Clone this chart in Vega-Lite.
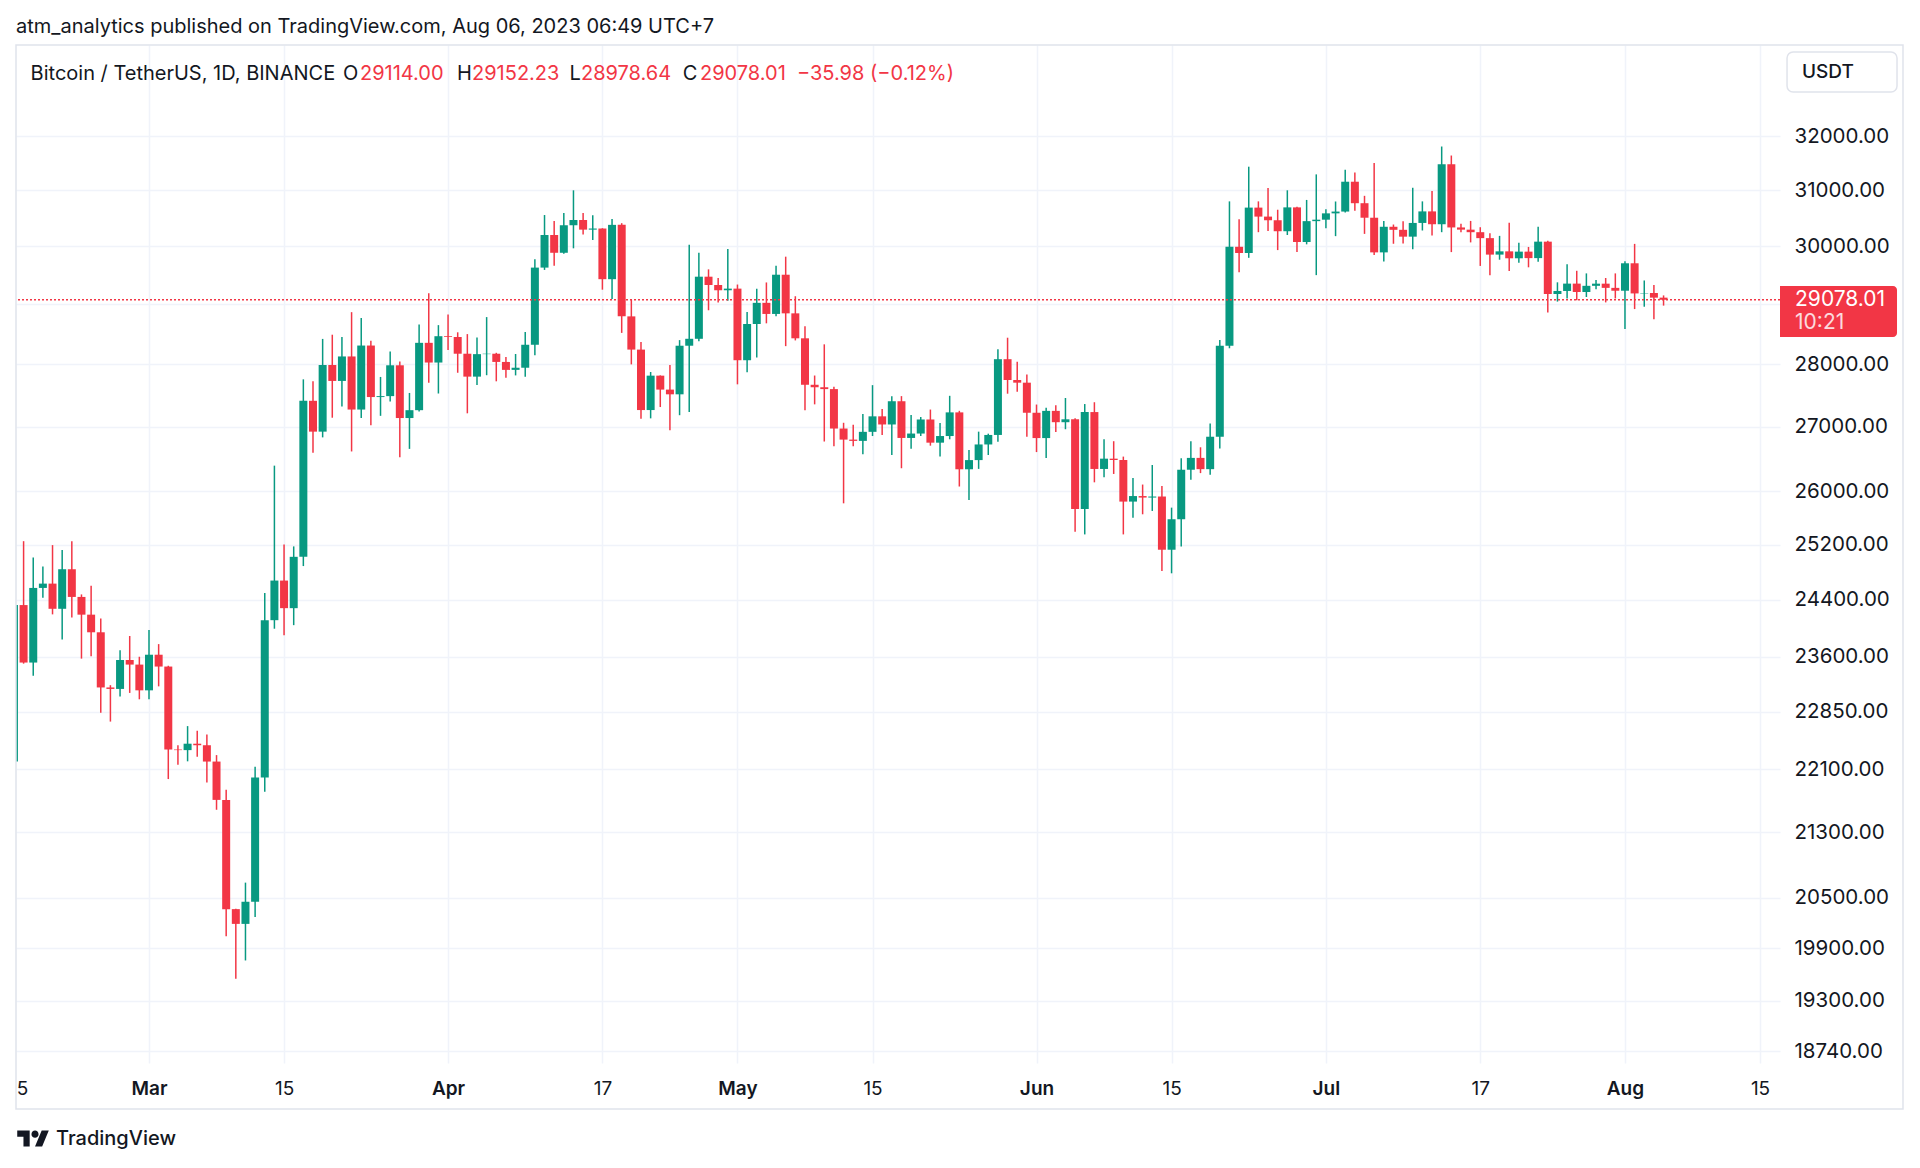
{
  "$schema": "https://vega.github.io/schema/vega-lite/v6.json",
  "autosize": {"type": "none"},
  "width": 1764,
  "height": 1018,
  "padding": {"left": 16, "top": 45, "right": 140, "bottom": 105},
  "background": "#ffffff",
  "config": {"view": {"stroke": null}, "font": "Inter", "scale": {"continuousPadding": 0}},
  "title": {"text": "atm_analytics published on TradingView.com, Aug 06, 2023 06:49 UTC+7", "anchor": "start", "frame": "group", "font": "Inter", "fontSize": 20, "fontWeight": "normal", "color": "#131722", "offset": 7},
  "datasets": {
    "btc": [
      {"d":"2023-02-15","o":22199,"h":24380,"l":22047,"c":24324},
      {"d":"2023-02-16","o":24324,"h":25250,"l":23505,"c":23520},
      {"d":"2023-02-17","o":23520,"h":25010,"l":23340,"c":24569},
      {"d":"2023-02-18","o":24569,"h":24877,"l":24430,"c":24631},
      {"d":"2023-02-19","o":24631,"h":25192,"l":24192,"c":24271},
      {"d":"2023-02-20","o":24271,"h":25121,"l":23840,"c":24839},
      {"d":"2023-02-21","o":24839,"h":25250,"l":24148,"c":24440},
      {"d":"2023-02-22","o":24440,"h":24476,"l":23574,"c":24188},
      {"d":"2023-02-23","o":24188,"h":24600,"l":23608,"c":23940},
      {"d":"2023-02-24","o":23940,"h":24132,"l":22841,"c":23180},
      {"d":"2023-02-25","o":23180,"h":23211,"l":22722,"c":23160},
      {"d":"2023-02-26","o":23160,"h":23689,"l":23059,"c":23555},
      {"d":"2023-02-27","o":23555,"h":23888,"l":23106,"c":23492},
      {"d":"2023-02-28","o":23492,"h":23600,"l":23020,"c":23141},
      {"d":"2023-03-01","o":23141,"h":23972,"l":23020,"c":23628},
      {"d":"2023-03-02","o":23628,"h":23775,"l":23195,"c":23465},
      {"d":"2023-03-03","o":23465,"h":23476,"l":21971,"c":22354},
      {"d":"2023-03-04","o":22354,"h":22410,"l":22157,"c":22346},
      {"d":"2023-03-05","o":22346,"h":22662,"l":22200,"c":22430},
      {"d":"2023-03-06","o":22430,"h":22602,"l":22258,"c":22410},
      {"d":"2023-03-07","o":22410,"h":22552,"l":21927,"c":22197},
      {"d":"2023-03-08","o":22197,"h":22281,"l":21580,"c":21705},
      {"d":"2023-03-09","o":21705,"h":21834,"l":20042,"c":20362},
      {"d":"2023-03-10","o":20362,"h":20367,"l":19549,"c":20187},
      {"d":"2023-03-11","o":20187,"h":20680,"l":19760,"c":20450},
      {"d":"2023-03-12","o":20450,"h":22130,"l":20270,"c":21990},
      {"d":"2023-03-13","o":21990,"h":24495,"l":21810,"c":24110},
      {"d":"2023-03-14","o":24110,"h":26390,"l":23990,"c":24675},
      {"d":"2023-03-15","o":24675,"h":25200,"l":23900,"c":24280},
      {"d":"2023-03-16","o":24280,"h":25173,"l":24040,"c":25020},
      {"d":"2023-03-17","o":25020,"h":27756,"l":24885,"c":27410},
      {"d":"2023-03-18","o":27410,"h":27725,"l":26590,"c":26920},
      {"d":"2023-03-19","o":26920,"h":28420,"l":26830,"c":27990},
      {"d":"2023-03-20","o":27990,"h":28490,"l":27140,"c":27730},
      {"d":"2023-03-21","o":27730,"h":28450,"l":27320,"c":28130},
      {"d":"2023-03-22","o":28130,"h":28868,"l":26610,"c":27270},
      {"d":"2023-03-23","o":27270,"h":28770,"l":27135,"c":28310},
      {"d":"2023-03-24","o":28310,"h":28390,"l":27020,"c":27470},
      {"d":"2023-03-25","o":27470,"h":27795,"l":27170,"c":27485},
      {"d":"2023-03-26","o":27485,"h":28210,"l":27400,"c":27985},
      {"d":"2023-03-27","o":27985,"h":28048,"l":26520,"c":27135},
      {"d":"2023-03-28","o":27135,"h":27536,"l":26650,"c":27260},
      {"d":"2023-03-29","o":27260,"h":28660,"l":27240,"c":28355},
      {"d":"2023-03-30","o":28355,"h":29190,"l":27700,"c":28030},
      {"d":"2023-03-31","o":28030,"h":28650,"l":27527,"c":28465},
      {"d":"2023-04-01","o":28465,"h":28830,"l":28235,"c":28452},
      {"d":"2023-04-02","o":28452,"h":28530,"l":27863,"c":28175},
      {"d":"2023-04-03","o":28175,"h":28500,"l":27210,"c":27800},
      {"d":"2023-04-04","o":27800,"h":28444,"l":27666,"c":28168},
      {"d":"2023-04-05","o":28168,"h":28785,"l":27823,"c":28175},
      {"d":"2023-04-06","o":28175,"h":28190,"l":27724,"c":28040},
      {"d":"2023-04-07","o":28040,"h":28120,"l":27780,"c":27910},
      {"d":"2023-04-08","o":27910,"h":28170,"l":27820,"c":27945},
      {"d":"2023-04-09","o":27945,"h":28536,"l":27800,"c":28323},
      {"d":"2023-04-10","o":28323,"h":29774,"l":28150,"c":29630},
      {"d":"2023-04-11","o":29630,"h":30555,"l":29590,"c":30200},
      {"d":"2023-04-12","o":30200,"h":30450,"l":29660,"c":29888},
      {"d":"2023-04-13","o":29888,"h":30590,"l":29870,"c":30373},
      {"d":"2023-04-14","o":30373,"h":31000,"l":29966,"c":30466},
      {"d":"2023-04-15","o":30466,"h":30590,"l":30210,"c":30295},
      {"d":"2023-04-16","o":30295,"h":30549,"l":30110,"c":30315},
      {"d":"2023-04-17","o":30315,"h":30320,"l":29250,"c":29430},
      {"d":"2023-04-18","o":29430,"h":30485,"l":29090,"c":30380},
      {"d":"2023-04-19","o":30380,"h":30410,"l":28520,"c":28797},
      {"d":"2023-04-20","o":28797,"h":29075,"l":28000,"c":28243},
      {"d":"2023-04-21","o":28243,"h":28370,"l":27125,"c":27262},
      {"d":"2023-04-22","o":27262,"h":27875,"l":27130,"c":27816},
      {"d":"2023-04-23","o":27816,"h":27820,"l":27310,"c":27590},
      {"d":"2023-04-24","o":27590,"h":27990,"l":26940,"c":27514},
      {"d":"2023-04-25","o":27514,"h":28400,"l":27180,"c":28307},
      {"d":"2023-04-26","o":28307,"h":30030,"l":27230,"c":28422},
      {"d":"2023-04-27","o":28422,"h":29890,"l":28380,"c":29473},
      {"d":"2023-04-28","o":29473,"h":29600,"l":28900,"c":29330},
      {"d":"2023-04-29","o":29330,"h":29450,"l":29030,"c":29240},
      {"d":"2023-04-30","o":29240,"h":29955,"l":29060,"c":29268},
      {"d":"2023-05-01","o":29268,"h":29338,"l":27675,"c":28068},
      {"d":"2023-05-02","o":28068,"h":28870,"l":27870,"c":28669},
      {"d":"2023-05-03","o":28669,"h":29266,"l":28113,"c":29026},
      {"d":"2023-05-04","o":29026,"h":29374,"l":28680,"c":28838},
      {"d":"2023-05-05","o":28838,"h":29660,"l":28800,"c":29507},
      {"d":"2023-05-06","o":29507,"h":29820,"l":28300,"c":28848},
      {"d":"2023-05-07","o":28848,"h":29138,"l":28395,"c":28430},
      {"d":"2023-05-08","o":28430,"h":28631,"l":27260,"c":27668},
      {"d":"2023-05-09","o":27668,"h":27818,"l":27353,"c":27628},
      {"d":"2023-05-10","o":27628,"h":28330,"l":26765,"c":27598},
      {"d":"2023-05-11","o":27598,"h":27638,"l":26690,"c":26969},
      {"d":"2023-05-12","o":26969,"h":27060,"l":25815,"c":26795},
      {"d":"2023-05-13","o":26795,"h":27030,"l":26693,"c":26775},
      {"d":"2023-05-14","o":26775,"h":27200,"l":26565,"c":26917},
      {"d":"2023-05-15","o":26917,"h":27662,"l":26851,"c":27162},
      {"d":"2023-05-16","o":27162,"h":27279,"l":26868,"c":27033},
      {"d":"2023-05-17","o":27033,"h":27483,"l":26555,"c":27403},
      {"d":"2023-05-18","o":27403,"h":27485,"l":26350,"c":26821},
      {"d":"2023-05-19","o":26821,"h":27184,"l":26654,"c":26890},
      {"d":"2023-05-20","o":26890,"h":27150,"l":26850,"c":27112},
      {"d":"2023-05-21","o":27112,"h":27270,"l":26700,"c":26747},
      {"d":"2023-05-22","o":26747,"h":27055,"l":26530,"c":26851},
      {"d":"2023-05-23","o":26851,"h":27490,"l":26800,"c":27225},
      {"d":"2023-05-24","o":27225,"h":27250,"l":26070,"c":26334},
      {"d":"2023-05-25","o":26334,"h":26632,"l":25865,"c":26476},
      {"d":"2023-05-26","o":26476,"h":26920,"l":26340,"c":26719},
      {"d":"2023-05-27","o":26719,"h":26888,"l":26555,"c":26868},
      {"d":"2023-05-28","o":26868,"h":28250,"l":26760,"c":28085},
      {"d":"2023-05-29","o":28085,"h":28440,"l":27524,"c":27745},
      {"d":"2023-05-30","o":27745,"h":28044,"l":27557,"c":27702},
      {"d":"2023-05-31","o":27702,"h":27834,"l":26840,"c":27219},
      {"d":"2023-06-01","o":27219,"h":27350,"l":26600,"c":26819},
      {"d":"2023-06-02","o":26819,"h":27300,"l":26510,"c":27249},
      {"d":"2023-06-03","o":27249,"h":27338,"l":26916,"c":27069},
      {"d":"2023-06-04","o":27069,"h":27455,"l":26958,"c":27115},
      {"d":"2023-06-05","o":27115,"h":27130,"l":25388,"c":25728},
      {"d":"2023-06-06","o":25728,"h":27358,"l":25350,"c":27230},
      {"d":"2023-06-07","o":27230,"h":27387,"l":26134,"c":26339},
      {"d":"2023-06-08","o":26339,"h":26800,"l":26210,"c":26498},
      {"d":"2023-06-09","o":26498,"h":26770,"l":26262,"c":26477},
      {"d":"2023-06-10","o":26477,"h":26530,"l":25350,"c":25841},
      {"d":"2023-06-11","o":25841,"h":26200,"l":25600,"c":25925},
      {"d":"2023-06-12","o":25925,"h":26100,"l":25650,"c":25902},
      {"d":"2023-06-13","o":25902,"h":26400,"l":25700,"c":25918},
      {"d":"2023-06-14","o":25918,"h":26077,"l":24813,"c":25124},
      {"d":"2023-06-15","o":25124,"h":25750,"l":24780,"c":25576},
      {"d":"2023-06-16","o":25576,"h":26504,"l":25173,"c":26327},
      {"d":"2023-06-17","o":26327,"h":26769,"l":26175,"c":26510},
      {"d":"2023-06-18","o":26510,"h":26675,"l":26275,"c":26336},
      {"d":"2023-06-19","o":26336,"h":27050,"l":26250,"c":26840},
      {"d":"2023-06-20","o":26840,"h":28400,"l":26655,"c":28307},
      {"d":"2023-06-21","o":28307,"h":30800,"l":28265,"c":29993},
      {"d":"2023-06-22","o":29993,"h":30480,"l":29548,"c":29884},
      {"d":"2023-06-23","o":29884,"h":31431,"l":29800,"c":30688},
      {"d":"2023-06-24","o":30688,"h":30800,"l":30250,"c":30527},
      {"d":"2023-06-25","o":30527,"h":31040,"l":30270,"c":30462},
      {"d":"2023-06-26","o":30462,"h":30650,"l":29935,"c":30267},
      {"d":"2023-06-27","o":30267,"h":31000,"l":30200,"c":30692},
      {"d":"2023-06-28","o":30692,"h":30704,"l":29900,"c":30077},
      {"d":"2023-06-29","o":30077,"h":30826,"l":30036,"c":30446},
      {"d":"2023-06-30","o":30446,"h":31290,"l":29500,"c":30472},
      {"d":"2023-07-01","o":30472,"h":30660,"l":30320,"c":30585},
      {"d":"2023-07-02","o":30585,"h":30798,"l":30180,"c":30617},
      {"d":"2023-07-03","o":30617,"h":31375,"l":30600,"c":31156},
      {"d":"2023-07-04","o":31156,"h":31326,"l":30630,"c":30767},
      {"d":"2023-07-05","o":30767,"h":30900,"l":30220,"c":30507},
      {"d":"2023-07-06","o":30507,"h":31500,"l":29850,"c":29895},
      {"d":"2023-07-07","o":29895,"h":30450,"l":29738,"c":30346},
      {"d":"2023-07-08","o":30346,"h":30386,"l":30046,"c":30292},
      {"d":"2023-07-09","o":30292,"h":30446,"l":30050,"c":30171},
      {"d":"2023-07-10","o":30171,"h":31046,"l":29950,"c":30414},
      {"d":"2023-07-11","o":30414,"h":30800,"l":30280,"c":30620},
      {"d":"2023-07-12","o":30620,"h":30988,"l":30190,"c":30391},
      {"d":"2023-07-13","o":30391,"h":31804,"l":30250,"c":31476},
      {"d":"2023-07-14","o":31476,"h":31637,"l":29900,"c":30334},
      {"d":"2023-07-15","o":30334,"h":30400,"l":30250,"c":30295},
      {"d":"2023-07-16","o":30295,"h":30450,"l":30070,"c":30250},
      {"d":"2023-07-17","o":30250,"h":30338,"l":29659,"c":30145},
      {"d":"2023-07-18","o":30145,"h":30233,"l":29500,"c":29856},
      {"d":"2023-07-19","o":29856,"h":30185,"l":29767,"c":29913},
      {"d":"2023-07-20","o":29913,"h":30417,"l":29570,"c":29792},
      {"d":"2023-07-21","o":29792,"h":30063,"l":29716,"c":29908},
      {"d":"2023-07-22","o":29908,"h":29990,"l":29635,"c":29795},
      {"d":"2023-07-23","o":29795,"h":30346,"l":29730,"c":30083},
      {"d":"2023-07-24","o":30083,"h":30099,"l":28861,"c":29176},
      {"d":"2023-07-25","o":29176,"h":29376,"l":29047,"c":29228},
      {"d":"2023-07-26","o":29228,"h":29690,"l":29100,"c":29354},
      {"d":"2023-07-27","o":29354,"h":29575,"l":29070,"c":29210},
      {"d":"2023-07-28","o":29210,"h":29530,"l":29125,"c":29316},
      {"d":"2023-07-29","o":29316,"h":29415,"l":29256,"c":29353},
      {"d":"2023-07-30","o":29353,"h":29450,"l":29033,"c":29281},
      {"d":"2023-07-31","o":29281,"h":29530,"l":29100,"c":29232},
      {"d":"2023-08-01","o":29232,"h":29740,"l":28585,"c":29705},
      {"d":"2023-08-02","o":29705,"h":30044,"l":28920,"c":29186},
      {"d":"2023-08-03","o":29186,"h":29408,"l":28960,"c":29193},
      {"d":"2023-08-04","o":29193,"h":29330,"l":28750,"c":29114},
      {"d":"2023-08-05","o":29114,"h":29152.23,"l":28978.64,"c":29078.01}
    ]
  },
  "layer": [
    {
      "data": {"name": "btc"},
      "mark": {"type": "rule", "strokeWidth": 1.5, "clip": true},
      "encoding": {
        "x": {"field": "d", "type": "temporal",
          "scale": {"type": "utc", "domain": [{"year":2023,"month":2,"date":15,"hours":5,"minutes":7,"utc":true},{"year":2023,"month":8,"date":17,"hours":1,"minutes":41,"utc":true}]},
          "axis": {
            "orient": "bottom", "title": null,
            "values": [
              {"year":2023,"month":2,"date":15,"hours":6,"utc":true},
              {"year":2023,"month":3,"date":1,"utc":true},
              {"year":2023,"month":3,"date":15,"utc":true},
              {"year":2023,"month":4,"date":1,"utc":true},
              {"year":2023,"month":4,"date":17,"utc":true},
              {"year":2023,"month":5,"date":1,"utc":true},
              {"year":2023,"month":5,"date":15,"utc":true},
              {"year":2023,"month":6,"date":1,"utc":true},
              {"year":2023,"month":6,"date":15,"utc":true},
              {"year":2023,"month":7,"date":1,"utc":true},
              {"year":2023,"month":7,"date":17,"utc":true},
              {"year":2023,"month":8,"date":1,"utc":true},
              {"year":2023,"month":8,"date":15,"utc":true}
            ],
            "labelExpr": "utcmonth(datum.value) == 1 ? '5' : (utcdate(datum.value) == 1 ? utcFormat(datum.value, '%b') : utcFormat(datum.value, '%d'))",
            "labelAlign": {"condition": {"test": "utcmonth(datum.value) == 1", "value": "left"}, "value": "center"},
            "labelFontWeight": {"condition": {"test": "utcdate(datum.value) == 1", "value": 600}, "value": 400},
            "gridOpacity": {"condition": {"test": "utcmonth(datum.value) == 1", "value": 0}, "value": 1},
            "grid": true, "gridColor": "#F0F3FA", "gridWidth": 1.5,
            "domain": false, "ticks": false, "tickSize": 0,
            "labelPadding": 25, "labelBaseline": "middle",
            "labelFont": "Inter", "labelFontSize": 19, "labelColor": "#131722",
            "labelFlush": false, "labelOverlap": false
          }
        },
        "y": {"field": "l", "type": "quantitative",
          "scale": {"type": "log", "domain": [18610, 33749], "nice": false},
          "axis": {
            "orient": "right", "title": null,
            "values": [18740, 19300, 19900, 20500, 21300, 22100, 22850, 23600, 24400, 25200, 26000, 27000, 28000, 29000, 30000, 31000, 32000],
            "labelExpr": "datum.value == 29000 ? '' : format(datum.value, '.2f')",
            "grid": true, "gridColor": "#F0F3FA", "gridWidth": 1.5,
            "domain": false, "ticks": false, "tickSize": 0,
            "labelPadding": 14, "labelAlign": "left", "labelBaseline": "middle",
            "labelFont": "Inter", "labelFontSize": 20.5, "labelColor": "#131722",
            "labelOverlap": false, "labelFlush": false
          }
        },
        "y2": {"field": "h"},
        "color": {"condition": {"test": "datum.c >= datum.o", "value": "#089981"}, "value": "#F23645"}
      }
    },
    {
      "data": {"name": "btc"},
      "mark": {"type": "bar", "size": 8, "clip": true},
      "encoding": {
        "x": {"field": "d", "type": "temporal",
          "scale": {"type": "utc", "domain": [{"year":2023,"month":2,"date":15,"hours":5,"minutes":7,"utc":true},{"year":2023,"month":8,"date":17,"hours":1,"minutes":41,"utc":true}]},
          "axis": {"title": null}},
        "y": {"field": "o", "type": "quantitative", "scale": {"type": "log", "domain": [18610, 33749], "nice": false}, "axis": {"title": null}},
        "y2": {"field": "c"},
        "color": {"condition": {"test": "datum.c >= datum.o", "value": "#089981"}, "value": "#F23645"}
      }
    },
    {
      "data": {"values": [{}]},
      "mark": {"type": "rule", "color": "#F23645", "strokeDash": [2, 2], "strokeWidth": 1.5},
      "encoding": {
        "y": {"datum": 29078.01, "type": "quantitative", "scale": {"type": "log", "domain": [18610, 33749], "nice": false}, "axis": {"title": null}}
      }
    },
    {
      "data": {"values": [{}]},
      "mark": {"type": "rect", "color": "#F23645", "cornerRadiusTopRight": 4, "cornerRadiusBottomRight": 4, "clip": false},
      "encoding": {
        "x": {"datum": {"year":2023,"month":8,"date":17,"hours":1,"minutes":41,"utc":true}, "type": "temporal",
          "scale": {"type": "utc", "domain": [{"year":2023,"month":2,"date":15,"hours":5,"minutes":7,"utc":true},{"year":2023,"month":8,"date":17,"hours":1,"minutes":41,"utc":true}]}, "axis": {"title": null}},
        "x2": {"datum": {"year":2023,"month":8,"date":29,"hours":4,"minutes":48,"utc":true}},
        "y": {"datum": 29313, "type": "quantitative", "scale": {"type": "log", "domain": [18610, 33749], "nice": false}, "axis": {"title": null}},
        "y2": {"datum": 28451}
      }
    },
    {
      "data": {"values": [{}]},
      "mark": {"type": "text", "text": "29078.01", "align": "left", "baseline": "middle", "font": "Inter", "fontSize": 21, "color": "#ffffff"},
      "encoding": {
        "x": {"datum": {"year":2023,"month":8,"date":18,"hours":15,"minutes":7,"utc":true}, "type": "temporal",
          "scale": {"type": "utc", "domain": [{"year":2023,"month":2,"date":15,"hours":5,"minutes":7,"utc":true},{"year":2023,"month":8,"date":17,"hours":1,"minutes":41,"utc":true}]}, "axis": {"title": null}},
        "y": {"datum": 29078.01, "type": "quantitative", "scale": {"type": "log", "domain": [18610, 33749], "nice": false}, "axis": {"title": null}}
      }
    },
    {
      "data": {"values": [{}]},
      "mark": {"type": "text", "text": "10:21", "align": "left", "baseline": "middle", "font": "Inter", "fontSize": 21, "color": "#ffffff", "opacity": 0.82},
      "encoding": {
        "x": {"datum": {"year":2023,"month":8,"date":18,"hours":15,"minutes":7,"utc":true}, "type": "temporal",
          "scale": {"type": "utc", "domain": [{"year":2023,"month":2,"date":15,"hours":5,"minutes":7,"utc":true},{"year":2023,"month":8,"date":17,"hours":1,"minutes":41,"utc":true}]}, "axis": {"title": null}},
        "y": {"datum": 28680, "type": "quantitative", "scale": {"type": "log", "domain": [18610, 33749], "nice": false}, "axis": {"title": null}}
      }
    },
    {
      "data": {"values": [{}]},
      "mark": {"type": "rect", "fill": "#ffffff", "stroke": "#E0E3EB", "strokeWidth": 1.5, "cornerRadius": 6, "clip": false},
      "encoding": {
        "x": {"datum": {"year":2023,"month":8,"date":17,"hours":19,"minutes":12,"utc":true}, "type": "temporal",
          "scale": {"type": "utc", "domain": [{"year":2023,"month":2,"date":15,"hours":5,"minutes":7,"utc":true},{"year":2023,"month":8,"date":17,"hours":1,"minutes":41,"utc":true}]}, "axis": {"title": null}},
        "x2": {"datum": {"year":2023,"month":8,"date":29,"hours":4,"minutes":48,"utc":true}},
        "y": {"datum": 33611, "type": "quantitative", "scale": {"type": "log", "domain": [18610, 33749], "nice": false}, "axis": {"title": null}},
        "y2": {"datum": 32834}
      }
    },
    {
      "data": {"values": [{}]},
      "mark": {"type": "text", "text": "USDT", "align": "left", "baseline": "middle", "font": "Inter", "fontSize": 19, "fontWeight": 500, "color": "#131722"},
      "encoding": {
        "x": {"datum": {"year":2023,"month":8,"date":19,"hours":8,"minutes":24,"utc":true}, "type": "temporal",
          "scale": {"type": "utc", "domain": [{"year":2023,"month":2,"date":15,"hours":5,"minutes":7,"utc":true},{"year":2023,"month":8,"date":17,"hours":1,"minutes":41,"utc":true}]}, "axis": {"title": null}},
        "y": {"datum": 33220, "type": "quantitative", "scale": {"type": "log", "domain": [18610, 33749], "nice": false}, "axis": {"title": null}}
      }
    },
    {
      "data": {"values": [{}]},
      "mark": {"type": "rect", "filled": false, "color": "#E0E3EB", "strokeWidth": 1.5, "clip": false},
      "encoding": {
        "x": {"datum": {"year":2023,"month":2,"date":15,"hours":5,"minutes":7,"utc":true}, "type": "temporal",
          "scale": {"type": "utc", "domain": [{"year":2023,"month":2,"date":15,"hours":5,"minutes":7,"utc":true},{"year":2023,"month":8,"date":17,"hours":1,"minutes":41,"utc":true}]}, "axis": {"title": null}},
        "x2": {"datum": {"year":2023,"month":8,"date":29,"hours":19,"minutes":41,"utc":true}},
        "y": {"datum": 33749, "type": "quantitative", "scale": {"type": "log", "domain": [18610, 33749], "nice": false}, "axis": {"title": null}},
        "y2": {"datum": 18116}
      }
    },
    {
      "data": {"values": [{}]},
      "mark": {"type": "text", "text": "Bitcoin / TetherUS, 1D, BINANCE", "align": "left", "baseline": "middle", "font": "Inter", "fontSize": 20, "color": "#131722"},
      "encoding": {
        "x": {"datum": {"year":2023,"month":2,"date":16,"hours":17,"minutes":27,"utc":true}, "type": "temporal",
          "scale": {"type": "utc", "domain": [{"year":2023,"month":2,"date":15,"hours":5,"minutes":7,"utc":true},{"year":2023,"month":8,"date":17,"hours":1,"minutes":41,"utc":true}]}, "axis": {"title": null}},
        "y": {"datum": 33190, "type": "quantitative", "scale": {"type": "log", "domain": [18610, 33749], "nice": false}, "axis": {"title": null}}
      }
    },
    {
      "data": {"values": [{}]},
      "mark": {"type": "text", "text": "O", "align": "left", "baseline": "middle", "font": "Inter", "fontSize": 20, "color": "#131722"},
      "encoding": {
        "x": {"datum": {"year":2023,"month":3,"date":21,"hours":2,"minutes":38,"utc":true}, "type": "temporal",
          "scale": {"type": "utc", "domain": [{"year":2023,"month":2,"date":15,"hours":5,"minutes":7,"utc":true},{"year":2023,"month":8,"date":17,"hours":1,"minutes":41,"utc":true}]}, "axis": {"title": null}},
        "y": {"datum": 33190, "type": "quantitative", "scale": {"type": "log", "domain": [18610, 33749], "nice": false}, "axis": {"title": null}}
      }
    },
    {
      "data": {"values": [{}]},
      "mark": {"type": "text", "text": "29114.00", "align": "left", "baseline": "middle", "font": "Inter", "fontSize": 20, "color": "#F23645"},
      "encoding": {
        "x": {"datum": {"year":2023,"month":3,"date":22,"hours":20,"minutes":56,"utc":true}, "type": "temporal",
          "scale": {"type": "utc", "domain": [{"year":2023,"month":2,"date":15,"hours":5,"minutes":7,"utc":true},{"year":2023,"month":8,"date":17,"hours":1,"minutes":41,"utc":true}]}, "axis": {"title": null}},
        "y": {"datum": 33190, "type": "quantitative", "scale": {"type": "log", "domain": [18610, 33749], "nice": false}, "axis": {"title": null}}
      }
    },
    {
      "data": {"values": [{}]},
      "mark": {"type": "text", "text": "H", "align": "left", "baseline": "middle", "font": "Inter", "fontSize": 20, "color": "#131722"},
      "encoding": {
        "x": {"datum": {"year":2023,"month":4,"date":1,"hours":22,"minutes":15,"utc":true}, "type": "temporal",
          "scale": {"type": "utc", "domain": [{"year":2023,"month":2,"date":15,"hours":5,"minutes":7,"utc":true},{"year":2023,"month":8,"date":17,"hours":1,"minutes":41,"utc":true}]}, "axis": {"title": null}},
        "y": {"datum": 33190, "type": "quantitative", "scale": {"type": "log", "domain": [18610, 33749], "nice": false}, "axis": {"title": null}}
      }
    },
    {
      "data": {"values": [{}]},
      "mark": {"type": "text", "text": "29152.23", "align": "left", "baseline": "middle", "font": "Inter", "fontSize": 20, "color": "#F23645"},
      "encoding": {
        "x": {"datum": {"year":2023,"month":4,"date":3,"hours":11,"minutes":34,"utc":true}, "type": "temporal",
          "scale": {"type": "utc", "domain": [{"year":2023,"month":2,"date":15,"hours":5,"minutes":7,"utc":true},{"year":2023,"month":8,"date":17,"hours":1,"minutes":41,"utc":true}]}, "axis": {"title": null}},
        "y": {"datum": 33190, "type": "quantitative", "scale": {"type": "log", "domain": [18610, 33749], "nice": false}, "axis": {"title": null}}
      }
    },
    {
      "data": {"values": [{}]},
      "mark": {"type": "text", "text": "L", "align": "left", "baseline": "middle", "font": "Inter", "fontSize": 20, "color": "#131722"},
      "encoding": {
        "x": {"datum": {"year":2023,"month":4,"date":13,"hours":14,"minutes":0,"utc":true}, "type": "temporal",
          "scale": {"type": "utc", "domain": [{"year":2023,"month":2,"date":15,"hours":5,"minutes":7,"utc":true},{"year":2023,"month":8,"date":17,"hours":1,"minutes":41,"utc":true}]}, "axis": {"title": null}},
        "y": {"datum": 33190, "type": "quantitative", "scale": {"type": "log", "domain": [18610, 33749], "nice": false}, "axis": {"title": null}}
      }
    },
    {
      "data": {"values": [{}]},
      "mark": {"type": "text", "text": "28978.64", "align": "left", "baseline": "middle", "font": "Inter", "fontSize": 20, "color": "#F23645"},
      "encoding": {
        "x": {"datum": {"year":2023,"month":4,"date":14,"hours":18,"minutes":45,"utc":true}, "type": "temporal",
          "scale": {"type": "utc", "domain": [{"year":2023,"month":2,"date":15,"hours":5,"minutes":7,"utc":true},{"year":2023,"month":8,"date":17,"hours":1,"minutes":41,"utc":true}]}, "axis": {"title": null}},
        "y": {"datum": 33190, "type": "quantitative", "scale": {"type": "log", "domain": [18610, 33749], "nice": false}, "axis": {"title": null}}
      }
    },
    {
      "data": {"values": [{}]},
      "mark": {"type": "text", "text": "C", "align": "left", "baseline": "middle", "font": "Inter", "fontSize": 20, "color": "#131722"},
      "encoding": {
        "x": {"datum": {"year":2023,"month":4,"date":25,"hours":8,"minutes":0,"utc":true}, "type": "temporal",
          "scale": {"type": "utc", "domain": [{"year":2023,"month":2,"date":15,"hours":5,"minutes":7,"utc":true},{"year":2023,"month":8,"date":17,"hours":1,"minutes":41,"utc":true}]}, "axis": {"title": null}},
        "y": {"datum": 33190, "type": "quantitative", "scale": {"type": "log", "domain": [18610, 33749], "nice": false}, "axis": {"title": null}}
      }
    },
    {
      "data": {"values": [{}]},
      "mark": {"type": "text", "text": "29078.01", "align": "left", "baseline": "middle", "font": "Inter", "fontSize": 20, "color": "#F23645"},
      "encoding": {
        "x": {"datum": {"year":2023,"month":4,"date":27,"hours":2,"minutes":47,"utc":true}, "type": "temporal",
          "scale": {"type": "utc", "domain": [{"year":2023,"month":2,"date":15,"hours":5,"minutes":7,"utc":true},{"year":2023,"month":8,"date":17,"hours":1,"minutes":41,"utc":true}]}, "axis": {"title": null}},
        "y": {"datum": 33190, "type": "quantitative", "scale": {"type": "log", "domain": [18610, 33749], "nice": false}, "axis": {"title": null}}
      }
    },
    {
      "data": {"values": [{}]},
      "mark": {"type": "text", "text": "−35.98 (−0.12%)", "align": "left", "baseline": "middle", "font": "Inter", "fontSize": 20, "color": "#F23645"},
      "encoding": {
        "x": {"datum": {"year":2023,"month":5,"date":7,"hours":4,"minutes":5,"utc":true}, "type": "temporal",
          "scale": {"type": "utc", "domain": [{"year":2023,"month":2,"date":15,"hours":5,"minutes":7,"utc":true},{"year":2023,"month":8,"date":17,"hours":1,"minutes":41,"utc":true}]}, "axis": {"title": null}},
        "y": {"datum": 33190, "type": "quantitative", "scale": {"type": "log", "domain": [18610, 33749], "nice": false}, "axis": {"title": null}}
      }
    },
    {
      "data": {"values": [{}]},
      "mark": {"type": "point", "shape": "M-0.222,0.5H-0.611V-0.111H-1V-0.5H-0.222V0.5ZM0.556,0.5H0.111L0.528,-0.5H0.972L0.556,0.5ZM-0.111,-0.278A0.222,0.222,0,1,0,0.333,-0.278A0.222,0.222,0,1,0,-0.111,-0.278Z", "size": 1024, "filled": true, "color": "#131722", "opacity": 1, "strokeWidth": 0, "clip": false},
      "encoding": {
        "x": {"datum": {"year":2023,"month":2,"date":17,"utc":true}, "type": "temporal",
          "scale": {"type": "utc", "domain": [{"year":2023,"month":2,"date":15,"hours":5,"minutes":7,"utc":true},{"year":2023,"month":8,"date":17,"hours":1,"minutes":41,"utc":true}]}, "axis": {"title": null}},
        "y": {"datum": 17805, "type": "quantitative", "scale": {"type": "log", "domain": [18610, 33749], "nice": false}, "axis": {"title": null}}
      }
    },
    {
      "data": {"values": [{}]},
      "mark": {"type": "text", "text": "TradingView", "align": "left", "baseline": "middle", "font": "Inter", "fontSize": 20, "fontWeight": 500, "color": "#131722", "clip": false},
      "encoding": {
        "x": {"datum": {"year":2023,"month":2,"date":19,"hours":8,"minutes":38,"utc":true}, "type": "temporal",
          "scale": {"type": "utc", "domain": [{"year":2023,"month":2,"date":15,"hours":5,"minutes":7,"utc":true},{"year":2023,"month":8,"date":17,"hours":1,"minutes":41,"utc":true}]}, "axis": {"title": null}},
        "y": {"datum": 17805, "type": "quantitative", "scale": {"type": "log", "domain": [18610, 33749], "nice": false}, "axis": {"title": null}}
      }
    }
  ]
}
